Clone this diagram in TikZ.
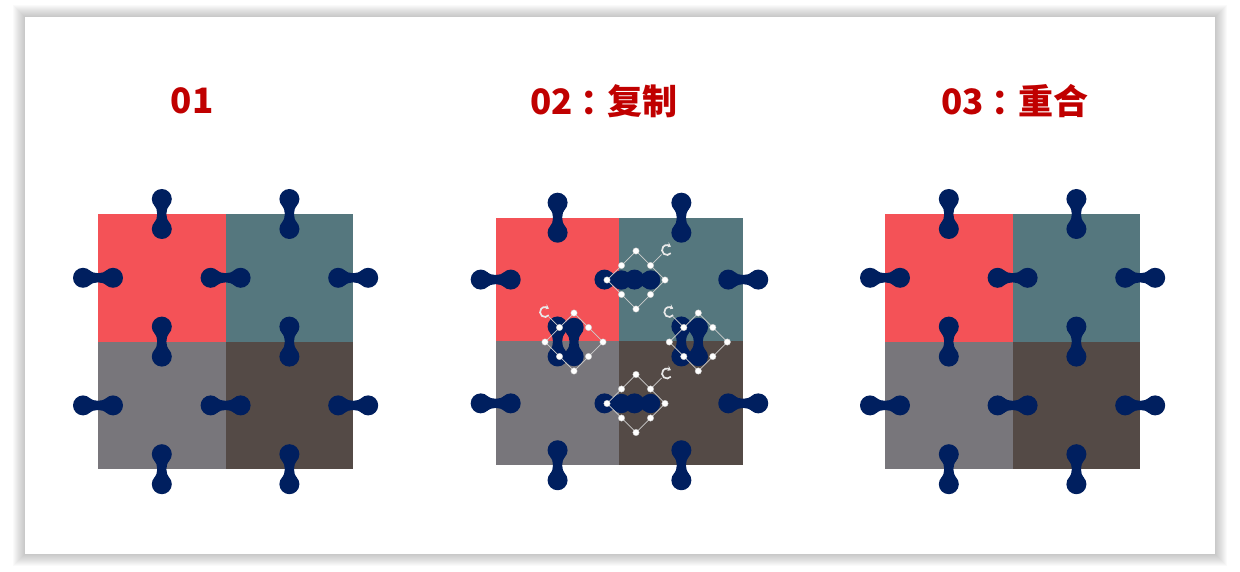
\documentclass[tikz,border=0pt]{standalone}
\usepackage{fontspec}
\newfontfamily\cjk{Noto Sans CJK SC}
\usetikzlibrary{arrows.meta,bending}

\definecolor{tilered}{RGB}{244,82,87}
\definecolor{tileteal}{RGB}{85,119,126}
\definecolor{tilegray}{RGB}{120,118,123}
\definecolor{tilebrown}{RGB}{84,74,70}
\definecolor{knobblue}{RGB}{0,31,95}
\definecolor{titlered}{RGB}{192,0,0}

\tikzset{
  knob/.pic={
    \fill[knobblue] (-15,0) circle (10) (15,0) circle (10);
    \fill[knobblue] (-9,-7.5) .. controls (-4,-3.6) and (4,-3.6) .. (9,-7.5)
      -- (9,7.5) .. controls (4,3.6) and (-4,3.6) .. (-9,7.5) -- cycle;
  },
  title/.style={font=\cjk\bfseries\fontsize{35}{40}\selectfont, text=titlered},
  handle/.style={fill=white, draw=gray!40, line width=0.4pt},
  selbox/.style={draw=gray!40, line width=0.7pt},
  rotmark/.style={draw=gray!18, line width=1.7pt, -{Stealth[length=3.5pt,width=5pt,bend]}},
}

\begin{document}
\begin{tikzpicture}[x=1pt,y=-1pt]
  \useasboundingbox (0,0) rectangle (1240,572);

  % frame with soft shadow
  \foreach \i in {1,...,12}
    \fill[black,opacity=0.018] (25-\i,17-\i) rectangle (1215+\i,554+\i);
  \fill[white] (25,17) rectangle (1215,554);

  % titles
  \node[title] (t1) at (192,101) {01};
  \node[title] (t2) at (604,101) {02\hspace{0.22em}：\hspace{-0.22em}复制};
  \node[title] (t3) at (1015,101) {03\hspace{0.22em}：\hspace{-0.22em}重合};

  % the three tile sets
  \foreach \gx/\gy/\s in {98/214/1, 495.7/217.7/0.97, 885/214/1} {
    \begin{scope}[shift={(\gx,\gy)}, scale=\s]
      \fill[tilered]   (0,0)         rectangle (127.6,127.6);
      \fill[tileteal]  (127.6,0)     rectangle (255.2,127.6);
      \fill[tilegray]  (0,127.6)     rectangle (127.6,255.2);
      \fill[tilebrown] (127.6,127.6) rectangle (255.2,255.2);
      \foreach \x in {0,1,2}
        \foreach \y in {0.5,1.5}
          \pic at (\x*127.6,\y*127.6) {knob};
      \foreach \x in {0.5,1.5}
        \foreach \y in {0,1,2}
          \pic[rotate=90] at (\x*127.6,\y*127.6) {knob};
    \end{scope}
  }

  % copies in set 02
  \foreach \cx/\cy/\r in {636/280/0, 636/403.5/0, 574/342/90, 698.3/342/90}
    \pic[scale=0.97,rotate=\r] at (\cx,\cy) {knob};

  % selection boxes, horizontal copies
  \foreach \cx/\cy in {636/280, 636/403.5} {
    \begin{scope}[shift={(\cx,\cy)}]
      \draw[selbox] (0,-29) -- (29,0) -- (0,29) -- (-29,0) -- cycle;
      \draw[selbox] (14.5,-14.5) -- (25.5,-25.5);
      \draw[rotmark] (31,-30) ++(40:5) arc (40:320:5);
      \foreach \hx/\hy in {0/-29, 29/0, 0/29, -29/0, 14.5/-14.5, 14.5/14.5, -14.5/14.5, -14.5/-14.5}
        \filldraw[handle] (\hx,\hy) circle (3.2);
    \end{scope}
  }

  % selection boxes, vertical copies
  \foreach \cx/\cy in {574/342, 698.3/342} {
    \begin{scope}[shift={(\cx,\cy)}]
      \draw[selbox] (0,-29) -- (29,0) -- (0,29) -- (-29,0) -- cycle;
      \draw[selbox] (-14.5,-14.5) -- (-25.5,-25.5);
      \draw[rotmark] (-29,-30) ++(40:5) arc (40:320:5);
      \foreach \hx/\hy in {0/-29, 29/0, 0/29, -29/0, 14.5/-14.5, 14.5/14.5, -14.5/14.5, -14.5/-14.5}
        \filldraw[handle] (\hx,\hy) circle (3.2);
    \end{scope}
  }
\end{tikzpicture}
\end{document}
